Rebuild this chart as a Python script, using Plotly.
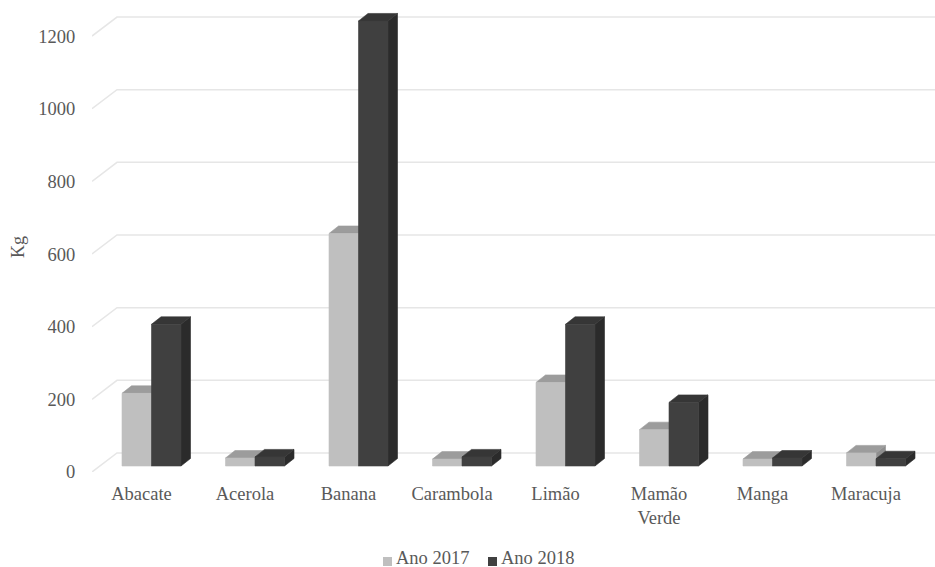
import plotly.graph_objects as go

# ---- data -------------------------------------------------------------
categories = ["Abacate", "Acerola", "Banana", "Carambola",
              "Limão", "Mamão Verde", "Manga", "Maracuja"]
tick_labels = ["Abacate", "Acerola", "Banana", "Carambola",
               "Limão", "Mamão<br>Verde", "Manga", "Maracuja"]
series_names = ["Ano 2017", "Ano 2018"]
ano_2017 = [200, 22, 640, 19, 230, 100, 19, 36]
ano_2018 = [390, 25, 1225, 25, 390, 175, 22, 20]
y_ticks = [0, 200, 400, 600, 800, 1000, 1200]

# ---- geometry (pixels) -------------------------------------------------
W, H = 935, 567
M_L, M_R, M_T, M_B = 92, 0, 5, 95
PLOT_W = W - M_L - M_R
PLOT_H = H - M_T - M_B
CAT_PX = 103.5            # pixels between category centres
PX_PER_UNIT_Y = 0.3633    # pixels per kg on the front plane

X_MIN = -0.575
X_MAX = X_MIN + PLOT_W / CAT_PX
Y_MAX = PLOT_H / PX_PER_UNIT_Y


def dx(px):
    return px / CAT_PX


def dy(px):
    return px / PX_PER_UNIT_Y


def paper_x(px):
    return (px - M_L) / PLOT_W


def paper_y(py):
    return (M_T + PLOT_H - py) / PLOT_H


# wall depth (gridlines) and bar depth
WALL_DX, WALL_DY = dx(25), dy(19)
BAR_DX, BAR_DY = dx(9.5), dy(7.5)
BAR_BASE = dy(6)
BAR_W = dx(29.5)
LABEL_SHIFT = dx(10)

LIGHT = dict(front="#BFBFBF", top="#9C9C9C", side="#8E8E8E")
DARK = dict(front="#404040", top="#363636", side="#2B2B2B")

FONT = "Liberation Serif, Times New Roman, serif"
TEXT_COLOR = "#595959"
FONT_SIZE = 18.5

fig = go.Figure()

# ---- back / side wall gridlines ---------------------------------------
gx, gy = [], []
for v in y_ticks:
    gx += [X_MIN, X_MIN + WALL_DX, X_MAX, None]
    gy += [v, v + WALL_DY, v + WALL_DY, None]
fig.add_trace(go.Scatter(x=gx, y=gy, mode="lines",
                         line=dict(color="#E6E6E6", width=1.5),
                         hoverinfo="skip", showlegend=False))


# ---- 3D columns ------------------------------------------------------
def faces(values, offset):
    front_x, front_y, top_x, top_y, side_x, side_y = [], [], [], [], [], []
    for i, v in enumerate(values):
        x0 = i + offset
        x1 = x0 + BAR_W
        y0 = BAR_BASE
        y1 = BAR_BASE + v
        front_x += [x0, x1, x1, x0, x0, None]
        front_y += [y0, y0, y1, y1, y0, None]
        top_x += [x0, x1, x1 + BAR_DX, x0 + BAR_DX, x0, None]
        top_y += [y1, y1, y1 + BAR_DY, y1 + BAR_DY, y1, None]
        side_x += [x1, x1 + BAR_DX, x1 + BAR_DX, x1, x1, None]
        side_y += [y0, y0 + BAR_DY, y1 + BAR_DY, y1, y0, None]
    return (front_x, front_y), (top_x, top_y), (side_x, side_y)


def add_series(values, offset, colors, name):
    front, top, side = faces(values, offset)
    for (xs, ys), key in ((side, "side"), (top, "top"), (front, "front")):
        fig.add_trace(go.Scatter(
            x=xs, y=ys, mode="lines", fill="toself", name=name,
            fillcolor=colors[key], line=dict(width=0.6, color=colors[key]),
            hoverinfo="skip", showlegend=False))


add_series(ano_2017, -BAR_W, LIGHT, series_names[0])
add_series(ano_2018, 0.0, DARK, series_names[1])

# ---- legend (swatch + label), placed under the axis labels ---------------
legend_items = [(series_names[0], LIGHT["front"], 383),
                (series_names[1], DARK["front"], 488)]
shapes, annotations = [], []
for label, color, left in legend_items:
    shapes.append(dict(type="rect", xref="paper", yref="paper",
                       x0=paper_x(left), x1=paper_x(left + 9),
                       y0=paper_y(566), y1=paper_y(557),
                       fillcolor=color, line=dict(width=0)))
    annotations.append(dict(text=label, xref="paper", yref="paper",
                            x=paper_x(left + 11), y=paper_y(558),
                            xanchor="left", yanchor="middle", showarrow=False,
                            font=dict(family=FONT, size=FONT_SIZE, color=TEXT_COLOR)))

annotations.append(dict(text="Kg", xref="paper", yref="paper",
                        x=paper_x(18), y=paper_y(247),
                        xanchor="center", yanchor="middle", showarrow=False,
                        textangle=-90,
                        font=dict(family=FONT, size=18, color=TEXT_COLOR)))

fig.update_layout(
    width=W, height=H,
    margin=dict(l=M_L, r=M_R, t=M_T, b=M_B, pad=0),
    paper_bgcolor="white", plot_bgcolor="white",
    font=dict(family=FONT, size=FONT_SIZE, color=TEXT_COLOR),
    showlegend=False,
    xaxis=dict(range=[X_MIN, X_MAX], showgrid=False, zeroline=False,
               showline=False, tickmode="array",
               tickvals=[i - LABEL_SHIFT for i in range(len(categories))],
               ticktext=tick_labels, ticks="outside", ticklen=5,
               tickcolor="rgba(0,0,0,0)", fixedrange=True),
    yaxis=dict(range=[0, Y_MAX], showgrid=False, zeroline=False,
               showline=False, tickmode="array", tickvals=y_ticks,
               ticktext=[str(v) for v in y_ticks], ticks="outside",
               ticklen=12, tickcolor="rgba(0,0,0,0)", fixedrange=True),
    shapes=shapes,
    annotations=annotations,
)

fig.write_html("out.html")
